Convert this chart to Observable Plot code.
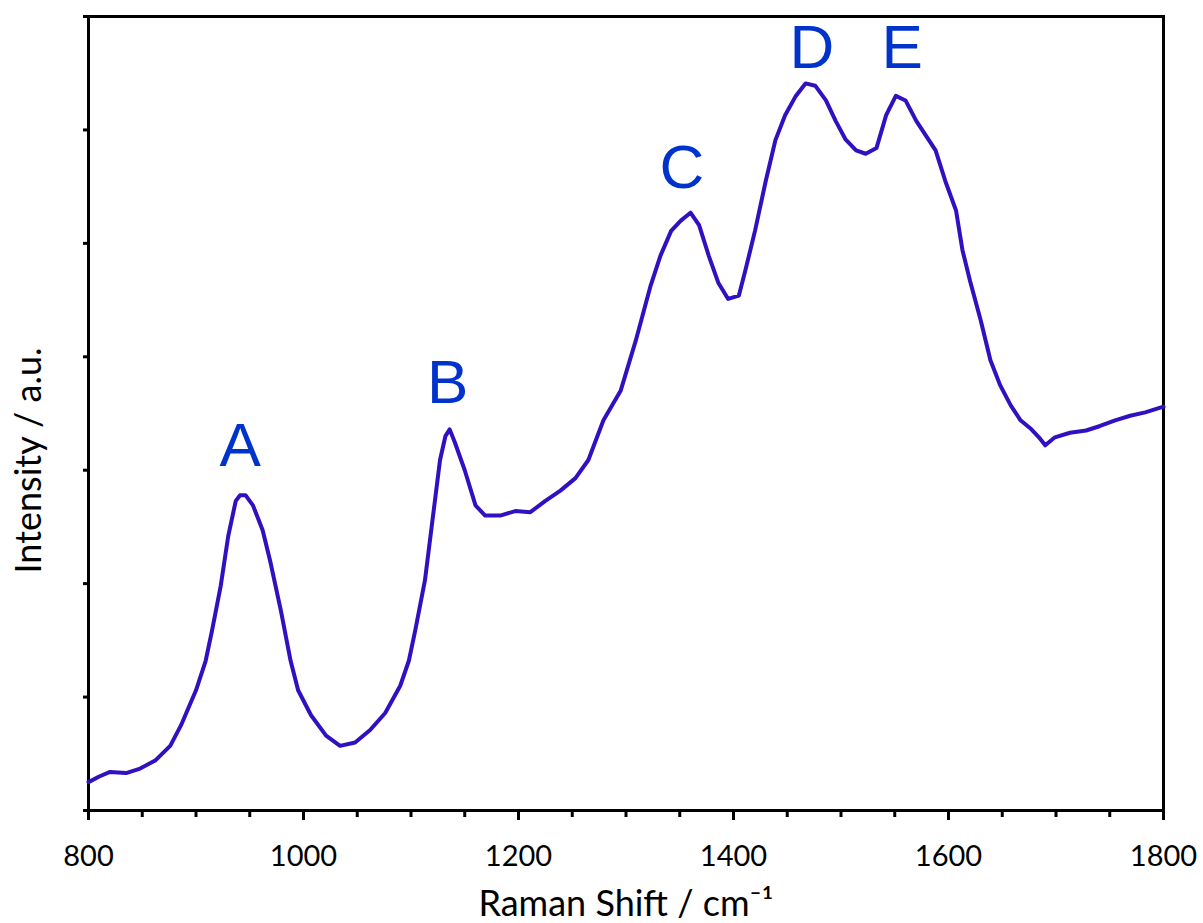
<!DOCTYPE html>
<html>
<head>
<meta charset="utf-8">
<script src="https://cdn.jsdelivr.net/npm/d3@7"></script>
<script src="https://cdn.jsdelivr.net/npm/@observablehq/plot@0.6"></script>
<style>
  html, body { margin: 0; padding: 0; background: #fff; }
  #chart { width: 1203px; height: 923px; }
</style>
</head>
<body>
<div id="chart"></div>
<script>
// Raman shift (cm^-1) and intensity (arbitrary units)
const shift = [800, 810, 820, 835, 848, 862, 876, 886, 900, 909, 915, 923, 930, 937, 941, 946, 953, 962, 969, 979, 988, 995, 1007, 1021, 1034, 1048, 1062, 1076, 1090, 1098, 1104, 1113, 1120, 1127, 1132, 1136, 1141, 1150, 1160, 1169, 1183, 1197, 1211, 1225, 1239, 1253, 1265, 1279, 1295, 1309, 1323, 1332, 1342, 1351, 1360, 1368, 1377, 1386, 1395, 1405, 1411, 1420, 1430, 1439, 1448, 1458, 1467, 1476, 1486, 1495, 1504, 1514, 1523, 1533, 1542, 1551, 1560, 1570, 1579, 1588, 1597, 1607, 1613, 1620, 1630, 1639, 1648, 1658, 1667, 1676, 1685, 1690, 1699, 1713, 1728, 1741, 1755, 1769, 1783, 1800];
const intensity = [0.25, 0.30, 0.34, 0.33, 0.37, 0.44, 0.57, 0.75, 1.06, 1.32, 1.59, 1.98, 2.42, 2.73, 2.78, 2.78, 2.69, 2.47, 2.20, 1.76, 1.32, 1.06, 0.84, 0.66, 0.57, 0.60, 0.71, 0.86, 1.10, 1.32, 1.59, 2.03, 2.56, 3.09, 3.30, 3.36, 3.24, 3.00, 2.69, 2.60, 2.60, 2.64, 2.63, 2.73, 2.82, 2.93, 3.09, 3.44, 3.70, 4.14, 4.63, 4.89, 5.11, 5.20, 5.27, 5.16, 4.89, 4.65, 4.51, 4.54, 4.76, 5.11, 5.55, 5.91, 6.13, 6.30, 6.41, 6.39, 6.26, 6.08, 5.92, 5.82, 5.79, 5.84, 6.13, 6.30, 6.26, 6.08, 5.95, 5.82, 5.55, 5.29, 4.94, 4.67, 4.32, 3.97, 3.75, 3.57, 3.44, 3.37, 3.28, 3.22, 3.29, 3.33, 3.35, 3.39, 3.44, 3.48, 3.51, 3.56];

// Peak labels
const peakNames = ["A", "B", "C", "D", "E"];
const peakX = [941, 1134, 1352, 1473, 1557];
const peakY = [3.04, 3.59, 5.49, 6.55, 6.55];

// Tick values
const xMajor = [800, 1000, 1200, 1400, 1600, 1800];
const xMinor = d3.range(800, 1801, 50);
const yTicks = [0, 1, 2, 3, 4, 5, 6, 7];

const spectrum = shift.map((s, i) => ({shift: s, intensity: intensity[i]}));
const peaks = peakNames.map((n, i) => ({name: n, x: peakX[i], y: peakY[i]}));

const chart = Plot.plot({
  width: 1203,
  height: 923,
  marginLeft: 88,
  marginRight: 40,
  marginTop: 16,
  marginBottom: 113,
  style: {fontFamily: "Lato, 'Open Sans', sans-serif", background: "#fff", color: "#000"},
  x: {domain: [800, 1800]},
  y: {domain: [0, 7]},
  marks: [
    Plot.axisX({ticks: xMinor, tickSize: 7, strokeWidth: 3, tickFormat: () => "", label: null}),
    Plot.axisX({ticks: xMajor, tickSize: 10, strokeWidth: 3, tickPadding: 25, fontSize: 29, tickFormat: d => String(d), label: null}),
    Plot.axisY({ticks: yTicks, tickSize: 5, strokeWidth: 3, tickFormat: () => "", label: null}),
    Plot.frame({stroke: "#000", strokeWidth: 3}),
    Plot.line(spectrum, {x: "shift", y: "intensity", stroke: "#3010c0", strokeWidth: 4, strokeLinejoin: "round"}),
    Plot.text(peaks, {x: "x", y: "y", text: "name", fill: "#0033cc", fontSize: 62, fontFamily: "'Liberation Sans', Arial, sans-serif", lineAnchor: "bottom"}),
    Plot.text(["Raman Shift / cm\u207B\u00B9"], {frameAnchor: "bottom", dy: 105, lineAnchor: "bottom", fontSize: 36}),
    Plot.text(["Intensity / a.u."], {frameAnchor: "left", textAnchor: "middle", dx: -59, dy: 47, rotate: -90, fontSize: 36})
  ]
});
document.getElementById("chart").appendChild(chart);
</script>
</body>
</html>
